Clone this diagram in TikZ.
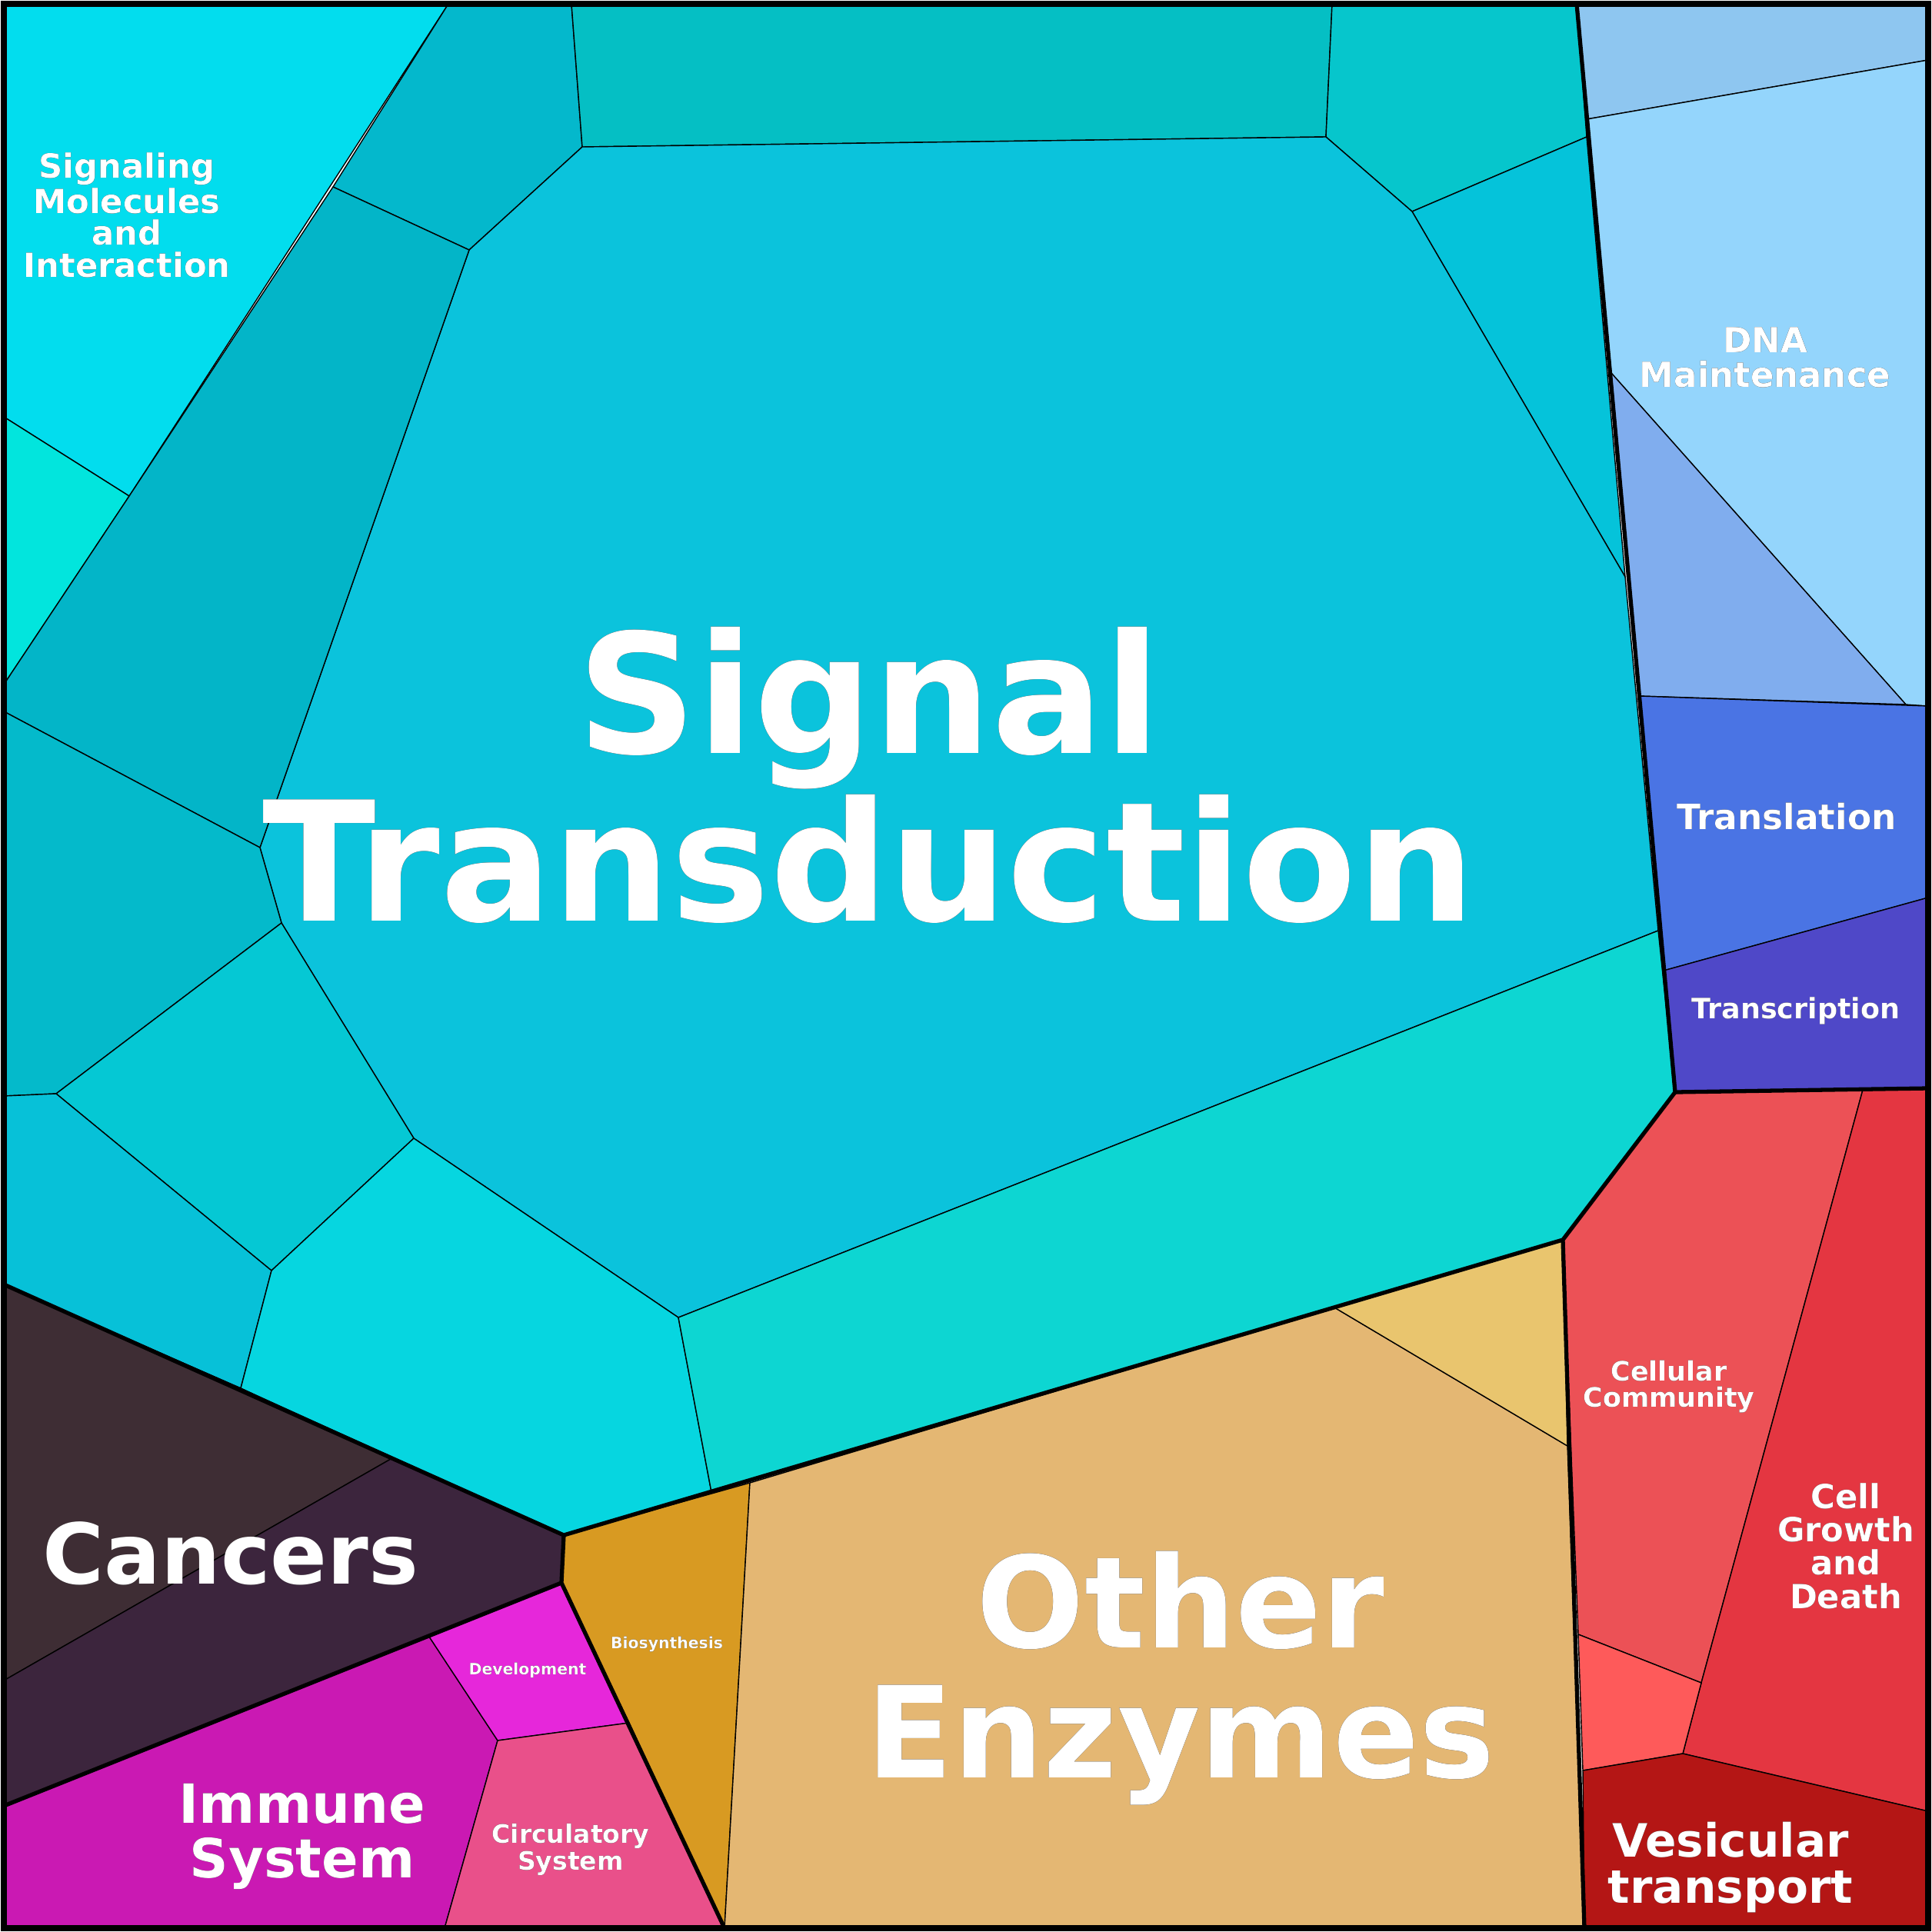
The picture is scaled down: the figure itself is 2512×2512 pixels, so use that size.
\documentclass[tikz,border=0pt]{standalone}
\usepackage{fontspec}
\setmainfont{DejaVu Sans}
\usepackage[outline]{contour}
\contourlength{0.35pt}
\begin{document}
\begin{tikzpicture}[x=0.01cm,y=-0.01cm,
  cell/.style={draw=black,line width=0.4pt,line join=round},
  grp/.style={draw=black,line width=1.5pt,line join=round},
  lab/.style={text=white,font=\bfseries,align=center}]
\newcommand{\ctext}[1]{\contour{black}{#1}}
\useasboundingbox (0,0) rectangle (2512,2512);
\definecolor{c1}{HTML}{02DDEE}\definecolor{c2}{HTML}{02E5DD}\definecolor{c3}{HTML}{04B8CC}
\definecolor{c4}{HTML}{05BFC4}\definecolor{c5}{HTML}{06C6CC}\definecolor{c6}{HTML}{05C3DA}
\definecolor{c7}{HTML}{0BC3DC}\definecolor{c8}{HTML}{03B5C8}\definecolor{c9}{HTML}{04BACB}
\definecolor{c10}{HTML}{05C8D4}\definecolor{c11}{HTML}{07C1D8}\definecolor{c12}{HTML}{06D6E0}
\definecolor{c13}{HTML}{0DD6D2}
\definecolor{d1}{HTML}{8EC6F0}\definecolor{d2}{HTML}{94D5FC}\definecolor{d3}{HTML}{80ADEE}
\definecolor{d4}{HTML}{4A74E4}\definecolor{d5}{HTML}{4F48C8}
\definecolor{r1}{HTML}{EC5156}\definecolor{r2}{HTML}{E43641}\definecolor{r3}{HTML}{FE5A5A}\definecolor{r4}{HTML}{B41615}
\definecolor{e1}{HTML}{D89A22}\definecolor{e2}{HTML}{E4B773}\definecolor{e3}{HTML}{E9C56E}
\definecolor{k1}{HTML}{3E2D34}\definecolor{k2}{HTML}{3C253D}
\definecolor{m1}{HTML}{CA19B3}\definecolor{m2}{HTML}{E627DA}\definecolor{m3}{HTML}{E9508A}
% signal group
\fill[c1,cell] (5,5)--(583,5)--(168,645)--(5,542)--cycle;
\fill[c2,cell] (5,542)--(168,645)--(5,890)--cycle;
\fill[c3,cell] (583,5)--(743,5)--(757,191)--(610,325)--(433,243)--cycle;
\fill[c4,cell] (743,5)--(1732,5)--(1724,178)--(757,191)--cycle;
\fill[c5,cell] (1732,5)--(2050,5)--(2063,178)--(1836,275)--(1724,178)--cycle;
\fill[c6,cell] (2063,178)--(2113,750)--(1836,275)--cycle;
\fill[c7,cell] (757,191)--(1724,178)--(1836,275)--(2113,750)--(2156,1210)--(882,1713)--(538,1480)--(366,1200)--(338,1102)--(610,325)--cycle;
\fill[c8,cell] (168,645)--(433,243)--(610,325)--(338,1102)--(5,925)--(5,890)--cycle;
\fill[c9,cell] (5,925)--(338,1102)--(366,1200)--(73,1422)--(5,1425)--cycle;
\fill[c10,cell] (73,1422)--(366,1200)--(538,1480)--(353,1652)--cycle;
\fill[c11,cell] (5,1425)--(73,1422)--(353,1652)--(313,1805)--(5,1670)--cycle;
\fill[c12,cell] (313,1805)--(353,1652)--(538,1480)--(882,1713)--(925,1940)--(733,1996)--cycle;
\fill[c13,cell] (882,1713)--(2156,1210)--(2178,1420)--(2032,1612)--(925,1940)--cycle;
% right blue group
\fill[d1,cell] (2050,5)--(2507,5)--(2507,78)--(2063,155)--cycle;
\fill[d2,cell] (2063,155)--(2507,78)--(2507,918)--(2478,916)--(2095,485)--cycle;
\fill[d3,cell] (2095,485)--(2478,916)--(2132,905)--cycle;
\fill[d4,cell] (2132,905)--(2507,918)--(2507,1167)--(2163,1262)--cycle;
\fill[d5,cell] (2163,1262)--(2507,1167)--(2507,1415)--(2178,1420)--cycle;
% red group
\fill[r1,cell] (2178,1420)--(2422,1417)--(2212,2188)--(2052,2125)--(2032,1612)--cycle;
\fill[r2,cell] (2422,1417)--(2507,1415)--(2507,2355)--(2188,2280)--(2212,2188)--cycle;
\fill[r3,cell] (2052,2125)--(2212,2188)--(2188,2280)--(2058,2302)--cycle;
\fill[r4,cell] (2058,2302)--(2188,2280)--(2507,2355)--(2507,2507)--(2060,2507)--cycle;
% enzymes
\fill[e1,cell] (733,1996)--(975,1928)--(942,2507)--(730,2058)--cycle;
\fill[e2,cell] (975,1928)--(1735,1700)--(2038,1880)--(2060,2507)--(942,2507)--cycle;
\fill[e3,cell] (1735,1700)--(2032,1612)--(2038,1880)--cycle;
% cancers
\fill[k1,cell] (5,1670)--(313,1805)--(508,1897)--(5,2185)--cycle;
\fill[k2,cell] (508,1897)--(733,1996)--(730,2058)--(5,2348)--(5,2185)--cycle;
% organismal
\fill[m1,cell] (5,2348)--(558,2128)--(647,2263)--(578,2507)--(5,2507)--cycle;
\fill[m2,cell] (558,2128)--(730,2058)--(818,2240)--(647,2263)--cycle;
\fill[m3,cell] (647,2263)--(818,2240)--(942,2507)--(578,2507)--cycle;
% group boundaries
\draw[grp] (2050,5)--(2178,1420)--(2032,1612)--(733,1996)--(5,1670);
\draw[grp] (2178,1420)--(2507,1415);
\draw[grp] (2032,1612)--(2060,2507);
\draw[grp] (733,1996)--(730,2058)--(942,2507);
\draw[grp] (730,2058)--(5,2348);
\draw[line width=2.3pt] (5,5) rectangle (2507,2507);
% labels
\node[lab,font=\bfseries\fontsize{61.5}{62}\selectfont] (st) at (1130,1008) {\ctext{Signal}\\\ctext{Transduction}};
\node[lab,font=\bfseries\fontsize{47}{48}\selectfont] (oe) at (1535,2182) {\ctext{Other}\\\ctext{Enzymes}};
\node[lab,font=\bfseries\fontsize{31}{31}\selectfont] (ca) at (300,2020) {\ctext{Cancers}};
\node[lab,font=\bfseries\fontsize{20}{20}\selectfont] (im) at (393,2388) {\ctext{Immune}\\\ctext{System}};
\node[lab,font=\bfseries\fontsize{17}{17}\selectfont] (ve) at (2250,2428) {\ctext{Vesicular}\\\ctext{transport}};
\node[lab,font=\bfseries\fontsize{12.3}{11.8}\selectfont] (sm) at (165,280) {\ctext{Signaling}\\\ctext{Molecules}\\\ctext{and}\\\ctext{Interaction}};
\node[lab,font=\bfseries\fontsize{12.8}{13}\selectfont] (dn) at (2295,465) {\ctext{DNA}\\\ctext{Maintenance}};
\node[lab,font=\bfseries\fontsize{12.9}{13}\selectfont] (tl) at (2323,1062) {\ctext{Translation}};
\node[lab,font=\bfseries\fontsize{10.4}{10}\selectfont] (tc) at (2335,1314) {\ctext{Transcription}};
\node[lab,font=\bfseries\fontsize{9.9}{9.5}\selectfont] (cc) at (2170,1803) {\ctext{Cellular}\\\ctext{Community}};
\node[lab,font=\bfseries\fontsize{12.3}{12.3}\selectfont] (cg) at (2400,2010) {\ctext{Cell}\\\ctext{Growth}\\\ctext{and}\\\ctext{Death}};
\node[lab,font=\bfseries\fontsize{9.4}{9}\selectfont] (cs) at (742,2405) {\ctext{Circulatory}\\\ctext{System}};
\node[lab,font=\bfseries\fontsize{5.8}{6}\selectfont] (dv) at (686,2172) {\ctext{Development}};
\node[lab,font=\bfseries\fontsize{5.8}{6}\selectfont] (bs) at (867,2138) {\ctext{Biosynthesis}};
\end{tikzpicture}
\end{document}
